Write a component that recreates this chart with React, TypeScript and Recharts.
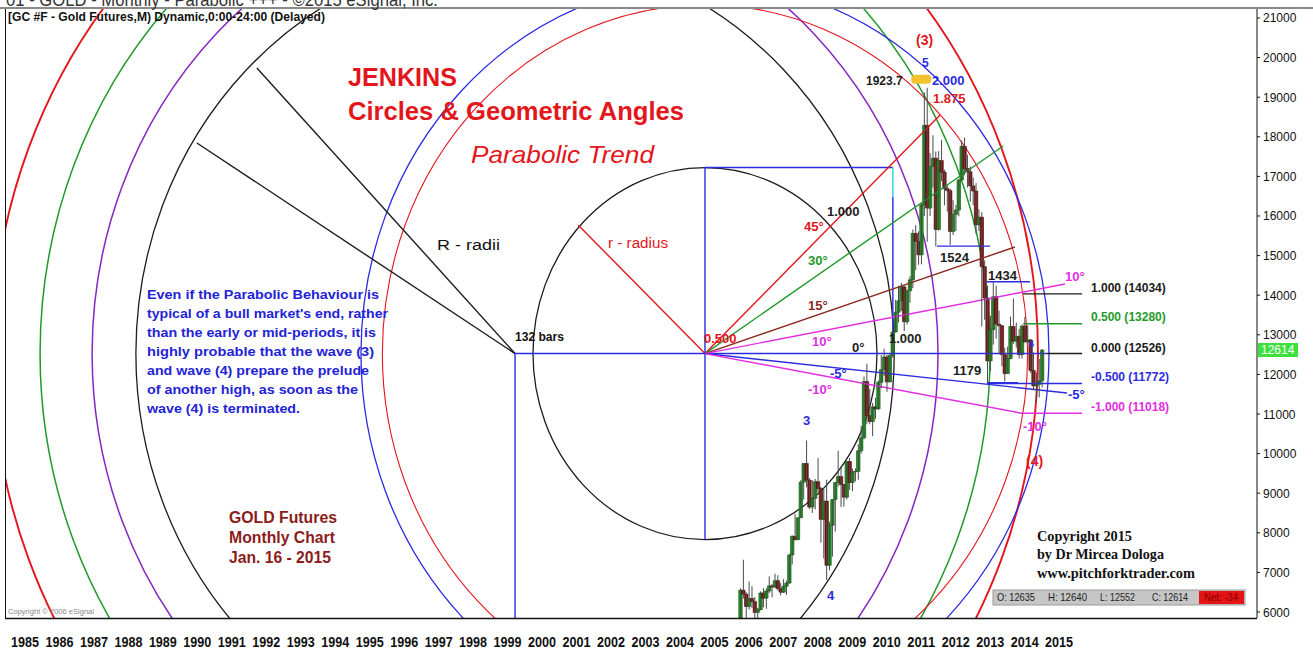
import { ComposedChart, XAxis, YAxis, ReferenceArea, ReferenceLine, Scatter } from 'recharts';

// GC #F monthly candles, Apr 2006 .. Jan 2015 (prices x10, like the eSignal axis)
const FIRST_YEAR = 2006;
const FIRST_MONTH = 4;
const OPEN = [
  5850, 6550, 6450, 6140, 6340, 6260, 5990, 6060, 6480,
  6350, 6530, 6660, 6630, 6790, 6590, 6500, 6650, 6730, 7440, 7910, 7830,
  8380, 9280, 9750, 9330, 8650, 8870, 9290, 9120, 8340, 8800, 7180, 8190,
  8840, 9270, 9420, 9220, 8900, 9800, 9270, 9540, 9550, 10070, 10400, 11820,
  10960, 10810, 11180, 11130, 11800, 12120, 12440, 11810, 12480, 13070, 13570, 13860,
  14210, 13330, 14110, 14390, 15560, 15360, 15020, 16280, 18290, 16200, 17250, 17460,
  15660, 17400, 17110, 16690, 16640, 15610, 16040, 16150, 16910, 17760, 17200, 17120,
  16760, 16630, 15780, 15970, 14720, 13930, 12340, 13130, 13960, 13270, 13230, 12500,
  12020, 12400, 13210, 12840, 12960, 12500, 13220, 12820, 12870, 12100, 11710, 11750,
  11840,
];
const HIGH = [
  6600, 7320, 6500, 6770, 6650, 6380, 6100, 6520, 6600,
  6600, 6900, 6710, 6970, 6930, 6730, 6830, 6790, 7470, 7940, 8480, 8380,
  9330, 9760, 10330, 9380, 9330, 9360, 9890, 9160, 9130, 9340, 8280, 8840,
  9280, 10070, 9680, 9220, 9810, 9890, 9620, 9630, 10240, 10700, 11950, 12270,
  11630, 11280, 11410, 11850, 12490, 12650, 12490, 12510, 13130, 13880, 14240, 14310,
  14240, 14140, 14480, 15660, 15770, 15610, 16330, 19120, 19237, 17590, 18040, 17630,
  17640, 17920, 17170, 16770, 16690, 16400, 16280, 16940, 17900, 17980, 17550, 17250,
  16970, 16830, 16170, 16100, 14880, 14240, 13480, 14340, 14240, 13610, 13240, 12670,
  12700, 13460, 13920, 13310, 13150, 13260, 13450, 13240, 12890, 12550, 12050, 12390,
  12640,
];
const LOW = [
  5830, 6340, 5430, 6060, 6100, 5730, 5600, 6040, 6120,
  6080, 6480, 6370, 6600, 6540, 6420, 6480, 6430, 6720, 7200, 7800, 7810,
  8380, 8840, 9150, 8600, 8500, 8590, 9030, 7750, 7350, 6810, 7050, 7400,
  8030, 9170, 8650, 8660, 8840, 9080, 9050, 9300, 9340, 10000, 10360, 10750,
  10740, 10440, 10880, 11100, 11650, 11960, 11560, 11810, 12420, 13060, 13310, 13600,
  13090, 13260, 13810, 14180, 14630, 14770, 14780, 16000, 15350, 16000, 16720, 15230,
  15630, 16880, 16270, 16110, 15270, 15520, 15620, 15990, 16900, 17030, 16720, 16360,
  16270, 15550, 15620, 13210, 13380, 11790, 12080, 12750, 12900, 12510, 12210, 11820,
  12020, 12380, 12770, 12680, 12400, 12400, 12810, 12810, 12040, 11600, 11310, 11420,
  11670,
];
const CLOSE = [
  6550, 6450, 6140, 6340, 6260, 5990, 6060, 6480, 6350,
  6530, 6660, 6630, 6790, 6590, 6500, 6650, 6730, 7440, 7910, 7830, 8380,
  9280, 9750, 9330, 8650, 8870, 9290, 9120, 8340, 8800, 7180, 8190, 8840,
  9270, 9420, 9220, 8900, 9800, 9270, 9540, 9550, 10070, 10400, 11820, 10960,
  10810, 11180, 11130, 11800, 12120, 12440, 11810, 12480, 13070, 13570, 13860, 14210,
  13330, 14110, 14390, 15560, 15360, 15020, 16280, 18290, 16200, 17250, 17460, 15660,
  17400, 17110, 16690, 16640, 15610, 16040, 16150, 16910, 17760, 17200, 17120, 16760,
  16630, 15780, 15970, 14720, 13930, 12340, 13130, 13960, 13270, 13230, 12500, 12020,
  12400, 13210, 12840, 12960, 12500, 13220, 12820, 12870, 12100, 11710, 11750, 11840,
  12614,
];

const YEAR_TICKS = [
  1985, 1986, 1987, 1988, 1989, 1990, 1991, 1992, 1993, 1994, 1995, 1996, 1997, 1998, 1999, 2000,
  2001, 2002, 2003, 2004, 2005, 2006, 2007, 2008, 2009, 2010, 2011, 2012, 2013, 2014, 2015,
];
const PRICE_TICKS = [6000, 7000, 8000, 9000, 10000, 11000, 12000, 13000, 14000, 15000, 16000, 17000, 18000, 19000, 20000, 21000];
const X_DOMAIN = [1984.913, 2021.234];
const Y_DOMAIN = [5848.5, 21252.5];

// small circle set ("r - radius"), centre at the 0.500 pivot
const PIVOT_R = { x: 2005.22, y: 12526 };
const R_SMALL_X = [4.99, 9.36, 9.98]; // 1.000, 1.875, 2.000
const R_SMALL_Y = [4697, 8807, 9394];
// large circle set ("R - radii", 132 bars), centre at the left pivot
const PIVOT_L = { x: 1999.71, y: 12526 };
const R_LARGE_X = [11.0, 12.27, 13.78, 15.17];
const R_LARGE_Y = [10152, 11414, 12828, 14141];

// geometric angles drawn from the 0.500 pivot
const ANGLE_NAMES = ['45°', '30°', '15°', '10°', '-5°', '-10°'];
const ANGLE_END_X = [2012.04, 2013.87, 2014.21, 2015.66, 2015.72, 2014.36];
const ANGLE_END_Y = [18551, 17768, 15217, 14283, 11531, 11026];

// R - radii and r - radius end points
const RADII_X = [1992.22, 1990.48];
const RADII_Y = [19737, 17844];
const SMALL_RADIUS_END = { x: 2001.54, y: 15773 };

// retracement levels on the right
const LEVEL_NAMES = ['1.000', '0.500', '0.000', '-0.500', '-1.000'];
const LEVEL_VALUES = [14034, 13280, 12526, 11772, 11018];
const LEVEL_FROM = [2014.45, 2014.45, 2015.14, 2013.4, 2014.36];
const LEVEL_TO = 2016.16;

// swing marks
const SWING_NAMES = ['1524', '1434', '1179'];
const SWING_VALUES = [15240, 14340, 11790];
const SWING_FROM = [2011.95, 2013.4, 2013.4];
const SWING_TO = [2013.49, 2014.65, 2014.3];

const BOX_RIGHT_X = 2010.67;
const BOX_CYAN_Y = 16480;
const BOX_BOTTOM_Y = 12990;

const PEAK = [{ x: 2011.667, y: 19237 }];

const C = {
  red: '#e3161c',
  green: '#1f9a2a',
  purple: '#8326c2',
  black: '#1c1c1c',
  blue: '#2b2be0',
  brown: '#8b2a1e',
  magenta: '#e22ee2',
  cyan: '#3fd7ef',
  textBlue: '#2323d6',
  darkRed: '#8a1c1c',
};
const SMALL_COLORS = [C.black, C.red, C.blue];
const SMALL_WIDTH = [1.3, 1.1, 1.3];
const LARGE_COLORS = [C.black, C.purple, C.green, C.red];
const LARGE_WIDTH = [1.3, 1.5, 1.5, 1.9];
const ANGLE_COLORS = [C.red, C.green, C.brown, C.magenta, C.blue, C.magenta];
const LEVEL_COLORS = [C.black, C.green, C.black, C.blue, C.magenta];

const SANS = "'Liberation Sans', Arial, Helvetica, sans-serif";
const NARROW = "'Liberation Sans Narrow', 'Liberation Sans', Arial, sans-serif";
const SERIF = "'Liberation Serif', 'Times New Roman', serif";

const candles = OPEN.map((o, i) => ({
  x: FIRST_YEAR + (FIRST_MONTH - 1 + i) / 12,
  o,
  h: HIGH[i],
  l: LOW[i],
  c: CLOSE[i],
}));

const ellipseShape = (color: string, w: number) => (p: any) => (
  <ellipse
    cx={p.x + p.width / 2}
    cy={p.y + p.height / 2}
    rx={Math.abs(p.width) / 2}
    ry={Math.abs(p.height) / 2}
    fill="none"
    stroke={color}
    strokeWidth={w}
    clipPath={p.clipPath}
  />
);

function YearTick({ x, payload }: any) {
  return (
    <text x={x + 3} y={647} fontSize={15} fontWeight="bold" fontFamily={NARROW} fill="#111" textLength={28} lengthAdjust="spacingAndGlyphs">
      {payload.value}
    </text>
  );
}

function PriceTick({ x, y, payload }: any) {
  return (
    <text x={x + 1} y={y + 4.5} fontSize={12} fontFamily={SANS} fill="#111">
      {payload.value}
    </text>
  );
}

function T({ x, y, size = 12, weight = 'bold', fill = '#111', len, italic, family = SANS, children }: any) {
  return (
    <text
      x={x}
      y={y}
      fontSize={size}
      fontWeight={weight}
      fill={fill}
      fontFamily={family}
      fontStyle={italic ? 'italic' : undefined}
      textLength={len}
      lengthAdjust={len ? 'spacingAndGlyphs' : undefined}
    >
      {children}
    </text>
  );
}

const PARAGRAPH = [
  ['Even if the Parabolic Behaviour is', 232],
  ["typical of a bull market's end, rather", 241],
  ['than the early or mid-periods, it is', 229],
  ['highly probable that the wave (3)', 227],
  ['and wave (4) prepare the prelude', 222],
  ['of another high, as soon as the', 211],
  ['wave (4) is terminated.', 153],
];

export default function App() {
  const seg = (x1: number, y1: number, x2: number, y2: number) => [
    { x: x1, y: y1 },
    { x: x2, y: y2 },
  ];

  return (
    <div style={{ position: 'absolute', left: 0, top: 0, width: 1313, height: 651, background: '#fff', overflow: 'hidden' }}>
      <ComposedChart width={1313} height={651} margin={{ top: 8, right: 0, bottom: 0, left: 5 }}>
        <XAxis
          type="number"
          dataKey="x"
          domain={X_DOMAIN}
          ticks={YEAR_TICKS}
          interval={0}
          allowDataOverflow
          axisLine={false}
          tickLine={false}
          height={33}
          tick={(p: any) => <YearTick {...p} />}
        />
        <YAxis
          type="number"
          dataKey="y"
          orientation="right"
          domain={Y_DOMAIN}
          ticks={PRICE_TICKS}
          interval={0}
          allowDataOverflow
          width={56}
          tickSize={3}
          axisLine={{ stroke: '#111' }}
          tickLine={{ stroke: '#111' }}
          tick={(p: any) => <PriceTick {...p} />}
        />

        {R_LARGE_X.map((rx, i) => (
          <ReferenceArea
            key={'L' + i}
            x1={PIVOT_L.x - rx}
            x2={PIVOT_L.x + rx}
            y1={PIVOT_L.y - R_LARGE_Y[i]}
            y2={PIVOT_L.y + R_LARGE_Y[i]}
            ifOverflow="hidden"
            shape={ellipseShape(LARGE_COLORS[i], LARGE_WIDTH[i])}
          />
        ))}
        {R_SMALL_X.map((rx, i) => (
          <ReferenceArea
            key={'S' + i}
            x1={PIVOT_R.x - rx}
            x2={PIVOT_R.x + rx}
            y1={PIVOT_R.y - R_SMALL_Y[i]}
            y2={PIVOT_R.y + R_SMALL_Y[i]}
            ifOverflow="hidden"
            shape={ellipseShape(SMALL_COLORS[i], SMALL_WIDTH[i])}
          />
        ))}

        {/* radii */}
        {RADII_X.map((x, i) => (
          <ReferenceLine key={'R' + i} segment={seg(PIVOT_L.x, PIVOT_L.y, x, RADII_Y[i])} stroke={C.black} strokeWidth={1.4} ifOverflow="hidden" />
        ))}
        <ReferenceLine segment={seg(PIVOT_R.x, PIVOT_R.y, SMALL_RADIUS_END.x, SMALL_RADIUS_END.y)} stroke={C.red} strokeWidth={1.4} ifOverflow="hidden" />

        {/* blue frame of the construction */}
        <ReferenceLine segment={seg(PIVOT_L.x, PIVOT_L.y, PIVOT_L.x, Y_DOMAIN[0] - 500)} stroke={C.blue} strokeWidth={1.4} ifOverflow="hidden" />
        <ReferenceLine segment={seg(PIVOT_L.x, PIVOT_L.y, LEVEL_FROM[2], PIVOT_L.y)} stroke={C.blue} strokeWidth={1.4} ifOverflow="hidden" />
        <ReferenceLine segment={seg(PIVOT_R.x, PIVOT_R.y + R_SMALL_Y[0], PIVOT_R.x, PIVOT_R.y - R_SMALL_Y[0])} stroke={C.blue} strokeWidth={1.4} ifOverflow="hidden" />
        <ReferenceLine segment={seg(PIVOT_R.x, PIVOT_R.y + R_SMALL_Y[0], BOX_RIGHT_X, PIVOT_R.y + R_SMALL_Y[0])} stroke={C.blue} strokeWidth={1.4} ifOverflow="hidden" />
        <ReferenceLine segment={seg(BOX_RIGHT_X, PIVOT_R.y + R_SMALL_Y[0], BOX_RIGHT_X, BOX_CYAN_Y)} stroke={C.cyan} strokeWidth={1.6} ifOverflow="hidden" />
        <ReferenceLine segment={seg(BOX_RIGHT_X, BOX_CYAN_Y, BOX_RIGHT_X, BOX_BOTTOM_Y)} stroke={C.blue} strokeWidth={1.4} ifOverflow="hidden" />

        {/* angles */}
        {ANGLE_END_X.map((x, i) => (
          <ReferenceLine key={'A' + i} segment={seg(PIVOT_R.x, PIVOT_R.y, x, ANGLE_END_Y[i])} stroke={ANGLE_COLORS[i]} strokeWidth={1.4} ifOverflow="hidden" />
        ))}

        {/* levels */}
        {LEVEL_VALUES.map((v, i) => (
          <ReferenceLine key={'V' + i} segment={seg(LEVEL_FROM[i], v, LEVEL_TO, v)} stroke={LEVEL_COLORS[i]} strokeWidth={1.4} ifOverflow="hidden" />
        ))}
        {SWING_VALUES.map((v, i) => (
          <ReferenceLine key={'W' + i} segment={seg(SWING_FROM[i], v, SWING_TO[i], v)} stroke={C.blue} strokeWidth={1.4} ifOverflow="hidden" />
        ))}

        {/* candles */}
        {candles.map((k, i) => (
          <ReferenceLine key={'k' + i} segment={seg(k.x, k.l, k.x, k.h)} stroke="#4a4a4a" strokeWidth={1} ifOverflow="hidden" />
        ))}
        {candles.map((k, i) => (
          <ReferenceArea
            key={'b' + i}
            x1={k.x - 0.05}
            x2={k.x + 0.05}
            y1={Math.min(k.o, k.c)}
            y2={Math.max(k.o, k.c)}
            ifOverflow="hidden"
            fill={k.c >= k.o ? '#1f9a1f' : '#8c1212'}
            fillOpacity={1}
            stroke={k.c >= k.o ? '#0c4d0c' : '#3c0606'}
            strokeWidth={0.6}
          />
        ))}

        <Scatter
          data={PEAK}
          dataKey="y"
          isAnimationActive={false}
          shape={(p: any) => <rect x={p.cx - 16} y={p.cy - 13} width={20} height={9} rx={4} fill="#f2c12e" />}
        />
      </ComposedChart>

      <svg width={1313} height={651} style={{ position: 'absolute', left: 0, top: 0, pointerEvents: 'none' }}>
        {/* frame */}
        <line x1={0} y1={8} x2={1313} y2={8} stroke="#8a8a8a" strokeWidth={2} />
        <line x1={5.5} y1={9} x2={5.5} y2={618} stroke="#111" strokeWidth={1} />
        <line x1={5} y1={618.5} x2={1257} y2={618.5} stroke="#111" strokeWidth={1.5} />

        <T x={6} y={6} size={18} weight="normal" fill="#333" len={432}>01 - GOLD - Monthly - Parabolic +++ - ©2015 eSignal, Inc.</T>
        <T x={8} y={21} size={12} len={317}>[GC #F - Gold Futures,M) Dynamic,0:00-24:00 (Delayed)</T>

        <T x={348} y={86} size={25} fill={C.red} len={109}>JENKINS</T>
        <T x={348} y={120} size={25} fill={C.red} len={336}>Circles &amp; Geometric Angles</T>
        <T x={471} y={163} size={24} weight="normal" italic fill={C.red} len={183}>Parabolic Trend</T>

        <T x={437} y={250} size={14} weight="normal" len={63}>R - radii</T>
        <T x={608} y={248} size={14} weight="normal" fill={C.red} len={60}>r - radius</T>
        <T x={515} y={341} size={12} family={NARROW} len={49}>132 bars</T>

        {PARAGRAPH.map(([s, w], i) => (
          <T key={i} x={147} y={299 + i * 19} size={13} fill={C.textBlue} len={w}>{s}</T>
        ))}

        <T x={229} y={523} size={16} fill={C.darkRed} len={108}>GOLD Futures</T>
        <T x={229} y={543} size={16} fill={C.darkRed} len={106}>Monthly Chart</T>
        <T x={229} y={563} size={16} fill={C.darkRed} len={102}>Jan. 16 - 2015</T>

        <T x={1037} y={541} size={14} family={SERIF} len={95}>Copyright 2015</T>
        <T x={1037} y={559} size={14} family={SERIF} len={127}>by Dr Mircea Dologa</T>
        <T x={1037} y={578} size={14} family={SERIF} len={158}>www.pitchforktrader.com</T>

        <rect x={993} y={590} width={252} height={15} fill="#c6c6c6" stroke="#9a9a9a" strokeWidth={1} />
        <rect x={1199} y={591} width={45} height={13} fill="#e41414" />
        <T x={997} y={601} size={11} weight="normal" fill="#222" len={38}>O: 12635</T>
        <T x={1048} y={601} size={11} weight="normal" fill="#222" len={39}>H: 12640</T>
        <T x={1100} y={601} size={11} weight="normal" fill="#222" len={35}>L: 12552</T>
        <T x={1152} y={601} size={11} weight="normal" fill="#222" len={36}>C: 12614</T>
        <T x={1204} y={601} size={11} weight="normal" fill="#8a0000" len={34}>Net: -34</T>

        <T x={8} y={614} size={8} weight="normal" fill="#888" len={86}>Copyright © 2006 eSignal</T>

        {/* last price badge */}
        <rect x={1258} y={343} width={40} height={14} fill="#3ee03e" />
        <T x={1261} y={354} size={12} weight="normal" fill="#fff">12614</T>

        {/* level names */}
        {LEVEL_NAMES.map((n, i) => (
          <T key={n} x={1091} y={[292, 321, 352, 381, 411][i]} size={12} fill={LEVEL_COLORS[i]}>
            {n} ({LEVEL_VALUES[i]})
          </T>
        ))}

        {/* angle names */}
        <T x={804} y={231} size={13} fill={C.red}>{ANGLE_NAMES[0]}</T>
        <T x={808} y={265} size={13} fill={C.green}>{ANGLE_NAMES[1]}</T>
        <T x={808} y={310} size={13} fill={C.brown}>{ANGLE_NAMES[2]}</T>
        <T x={812} y={346} size={13} fill={C.magenta}>{ANGLE_NAMES[3]}</T>
        <T x={852} y={352} size={13} fill={C.black}>0°</T>
        <T x={830} y={378} size={13} fill={C.blue}>{ANGLE_NAMES[4]}</T>
        <T x={808} y={394} size={13} fill={C.magenta}>{ANGLE_NAMES[5]}</T>
        <T x={1065} y={281} size={13} fill={C.magenta}>10°</T>
        <T x={1068} y={399} size={13} fill={C.blue}>-5°</T>
        <T x={1023} y={431} size={13} fill={C.magenta}>-10°</T>

        <T x={827} y={216} size={13} fill={C.black}>1.000</T>
        <T x={889} y={343} size={13} fill={C.black}>1.000</T>
        <T x={704} y={343} size={13} fill={C.red}>0.500</T>

        {SWING_NAMES.map((n, i) => (
          <T key={n} x={[940, 988, 953][i]} y={[262, 280, 375][i]} size={13} fill={C.black}>{n}</T>
        ))}

        <T x={866} y={85} size={12} fill={C.black}>1923.7</T>
        <T x={932} y={85} size={13} fill={C.blue}>2.000</T>
        <T x={933} y={103} size={13} fill={C.red}>1.875</T>
        <T x={922} y={67} size={12} fill={C.blue}>5</T>
        <T x={916} y={45} size={14} fill={C.red}>(3)</T>
        <T x={803} y={425} size={13} fill={C.blue}>3</T>
        <T x={827} y={600} size={13} fill={C.blue}>4</T>
        <T x={1026} y={466} size={14} fill={C.red}>(4)</T>
        <T x={1029} y={347} size={9} fill={C.blue}>6</T>
      </svg>
    </div>
  );
}
